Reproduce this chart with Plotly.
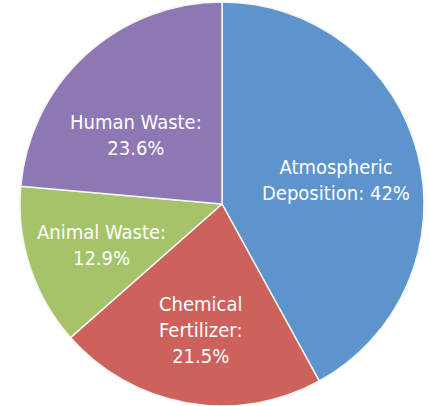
import plotly.graph_objects as go

# Nitrogen source shares (%)
sources = ["Atmospheric Deposition", "Chemical Fertilizer", "Animal Waste", "Human Waste"]
shares = [42, 21.5, 12.9, 23.6]
colors = ["#5d94cd", "#cd625c", "#a5c469", "#8d78b4"]

# Label text layout (line breaks) for each slice
label_lines = [
    ["Atmospheric", "Deposition: {v}%"],
    ["Chemical", "Fertilizer:", "{v}%"],
    ["Animal Waste:", "{v}%"],
    ["Human Waste:", "{v}%"],
]

W, H = 429, 406

fig = go.Figure(
    go.Pie(
        labels=sources,
        values=shares,
        sort=False,
        direction="clockwise",
        rotation=0,
        textinfo="none",
        hoverinfo="label+percent",
        marker=dict(colors=colors, line=dict(color="#f4f4f4", width=1.5)),
        domain=dict(x=[20 / W, 424 / W], y=[(H - 406) / H, (H - 2) / H]),
        showlegend=False,
    )
)

# Label anchor points (pixel centres within the canvas)
label_pos = [(336, 180), (201, 330), (101, 245), (136, 135)]

for lines, v, (px, py) in zip(label_lines, shares, label_pos):
    text = "<br>".join(l.format(v=f"{v:g}") for l in lines)
    fig.add_annotation(
        x=px / W, y=1 - py / H, xref="paper", yref="paper",
        text=text, showarrow=False,
        font=dict(family="DejaVu Sans Condensed, DejaVu Sans, sans-serif",
                  size=20, color="white"),
        align="center", xanchor="center", yanchor="middle",
    )

fig.update_layout(
    width=W, height=H,
    margin=dict(l=0, r=0, t=0, b=0),
    paper_bgcolor="white", plot_bgcolor="white",
)

fig.write_html("out.html")
